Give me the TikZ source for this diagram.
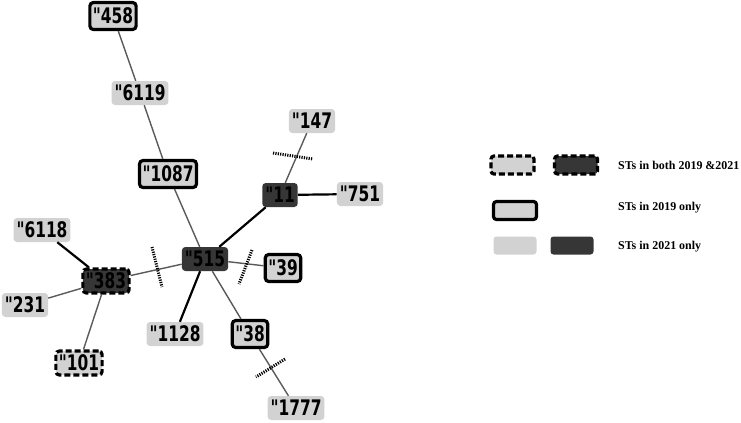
\documentclass[tikz,border=0pt]{standalone}
\usepackage{fontspec}
\newfontfamily\nodefont[FakeStretch=0.8]{DejaVu Sans Condensed Bold}
\newfontfamily\legfont{Liberation Serif}
\definecolor{lightfill}{HTML}{D2D2D2}
\definecolor{darkfill}{HTML}{363636}
\definecolor{edgegray}{HTML}{5A5A5A}
\begin{document}
\begin{tikzpicture}[x=1bp,y=-1bp,
  st/.style={rounded corners=3.5bp, inner xsep=3bp, inner ysep=2.5bp, font=\nodefont\fontsize{21.5}{21.5}\selectfont, text=black, minimum height=24bp},
  light/.style={st, fill=lightfill},
  dark/.style={st, fill=darkfill},
  solidb/.style={draw=black, line width=3.2bp, minimum height=27bp},
  dashb/.style={draw=black, line width=3.2bp, dash pattern=on 6bp off 3bp},
  thin/.style={draw=edgegray, line width=1.4bp},
  thick/.style={draw=black, line width=2.2bp},
  ticks/.style={draw=black, line width=3bp, dash pattern=on 1.2bp off 1.2bp},
  legbox/.style={rounded corners=3bp, minimum width=43bp, minimum height=18bp, inner sep=0pt},
  legtext/.style={font=\legfont\bfseries\fontsize{12}{12}\selectfont, anchor=west, inner sep=0pt}
]
\useasboundingbox (0,0) rectangle (741,422);
% nodes
\node[light,solidb] (n458) at (113,16) {"458};
\node[light] (n6119) at (140,93) {"6119};
\node[light,solidb] (n1087) at (168,174) {"1087};
\node[light] (n147) at (312,121) {"147};
\node[dark] (n11) at (280,195) {"11};
\node[light] (n751) at (360,194) {"751};
\node[light] (n6118) at (42,230) {"6118};
\node[dark,dashb] (n383) at (106,281) {"383};
\node[light] (n231) at (25,305) {"231};
\node[light,dashb] (n101) at (79,363) {"101};
\node[dark] (n515) at (205,259) {"515};
\node[light,solidb] (n39) at (283,268) {"39};
\node[light] (n1128) at (175,334) {"1128};
\node[light,solidb] (n38) at (250,334) {"38};
\node[light] (n1777) at (296,408) {"1777};
% edges
\draw[thin] (n458) -- (n6119);
\draw[thin] (n6119) -- (n1087);
\draw[thin] (n1087) -- (n515);
\draw[thin] (n147) -- (n11);
\draw[thick] (n11) -- (n751);
\draw[thick] (n515) -- (n11);
\draw[thick] (n6118) -- (n383);
\draw[thin] (n231) -- (n383);
\draw[thin] (n101) -- (n383);
\draw[thin] (n383) -- (n515);
\draw[thin] (n515) -- (n39);
\draw[thick] (n515) -- (n1128);
\draw[thin] (n515) -- (n38);
\draw[thin] (n38) -- (n1777);
% dotted tick marks
\draw[ticks] (273,153) -- (313,159);
\draw[ticks] (152,247) -- (162,287);
\draw[ticks] (252,250) -- (239,284);
\draw[ticks] (285,359) -- (256,377);
% legend
\node[legbox, fill=lightfill, dashb] (l1a) at (512.5,165) {};
\node[legbox, fill=darkfill, dashb] (l1b) at (576,165) {};
\node[legtext] (t1) at (618,165) {STs in both 2019 \&2021};
\node[legbox, fill=lightfill, solidb, minimum height=18bp] (l2a) at (515,210.5) {};
\node[legtext] (t2) at (618,208) {STs in 2019 only};
\node[legbox, fill=lightfill, draw=none] (l3a) at (515,245.5) {};
\node[legbox, fill=darkfill, draw=none] (l3b) at (572,245.5) {};
\node[legtext] (t3) at (618,247) {STs in 2021 only};
\end{tikzpicture}
\end{document}
